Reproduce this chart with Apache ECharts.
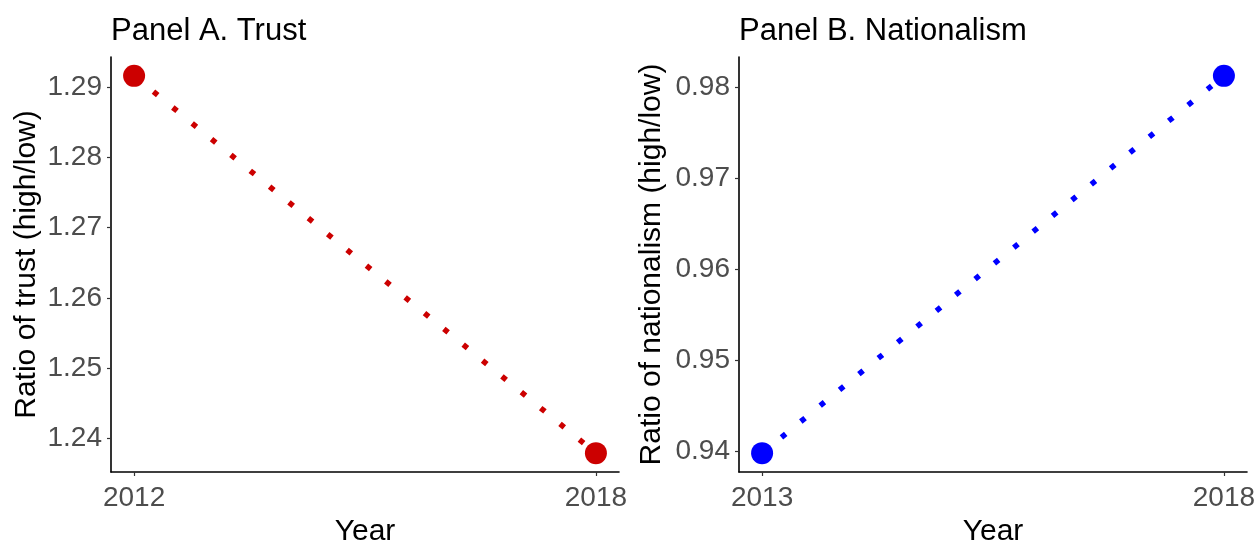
<!DOCTYPE html>
<html><head><meta charset="utf-8">
<script src="https://cdn.jsdelivr.net/npm/echarts@6/dist/echarts.min.js"></script>
<style>html,body{margin:0;padding:0;background:#fff}#c{width:1259px;height:540px}</style>
</head><body><div id="c"></div>
<script>
const trustYears = [2012, 2018];
const trustValues = [1.2916, 1.2379];
const natYears = [2013, 2018];
const natValues = [0.9398, 0.9813];
const trustTicks = [1.24, 1.25, 1.26, 1.27, 1.28, 1.29];
const natTicks = [0.94, 0.95, 0.96, 0.97, 0.98];

const FONT = 'Liberation Sans, Arial, sans-serif';
function expand(arr, f){const lo=Math.min(...arr),hi=Math.max(...arr),d=(hi-lo)*f;return [lo-d,hi+d];}
const axisLine = {show:true, lineStyle:{color:'#000', width:1.6}};
const axisTick = {show:true, length:4, lineStyle:{color:'#333', width:1.2}};
const labelStyle = {color:'#4D4D4D', fontSize:28, fontFamily:FONT};
const nameStyle = {color:'#000', fontSize:30, fontFamily:FONT};

function xAxis(idx, years){
  const [mn,mx]=expand(years,0.05);
  return {type:'value', gridIndex:idx, min:mn, max:mx, splitLine:{show:false},
    axisLine, axisTick:Object.assign({customValues:years},axisTick),
    axisLabel:Object.assign({customValues:years, margin:12, formatter:v=>String(Math.round(v))},labelStyle),
    name:'Year', nameLocation:'middle', nameGap:37, nameTextStyle:nameStyle};
}
function yAxis(idx, vals, ticks, name, gap){
  const [mn,mx]=expand(vals,0.05);
  return {type:'value', gridIndex:idx, min:mn, max:mx, splitLine:{show:false},
    axisLine, axisTick:Object.assign({customValues:ticks},axisTick),
    axisLabel:Object.assign({customValues:ticks, margin:9, formatter:v=>v.toFixed(2)},labelStyle),
    name, nameLocation:'middle', nameGap:gap, nameTextStyle:nameStyle};
}
function series(idx, xs, ys, color){
  return [{type:'line', xAxisIndex:idx, yAxisIndex:idx, data:xs.map((x,i)=>[x,ys[i]]),
    symbol:'none', lineStyle:{color, width:5.5, type:[5.5,19.5], cap:'butt'}, z:2, animation:false, silent:true},
   {type:'scatter', xAxisIndex:idx, yAxisIndex:idx, data:xs.map((x,i)=>[x,ys[i]]),
    symbol:'circle', symbolSize:22, itemStyle:{color, opacity:1}, z:3, animation:false, silent:true}];
}
const chart = echarts.init(document.getElementById('c'));
chart.setOption({
  animation:false,
  backgroundColor:'#fff',
  title:[
    {text:'Panel A. Trust', left:106, top:11, textStyle:{color:'#000', fontSize:31, fontWeight:'normal', fontFamily:FONT}},
    {text:'Panel B. Nationalism', left:734, top:11, textStyle:{color:'#000', fontSize:31, fontWeight:'normal', fontFamily:FONT}}
  ],
  grid:[
    {left:111, right:640, top:57, bottom:68, outerBoundsMode:'none', containLabel:false},
    {left:739, right:12, top:57, bottom:68, outerBoundsMode:'none', containLabel:false}
  ],
  xAxis:[xAxis(0,trustYears), xAxis(1,natYears)],
  yAxis:[yAxis(0,trustValues,trustTicks,'Ratio of trust (high/low)',69), yAxis(1,natValues,natTicks,'Ratio of nationalism (high/low)',72)],
  series:[...series(0,trustYears,trustValues,'#CC0000'), ...series(1,natYears,natValues,'#0000FF')]
});
</script></body></html>
